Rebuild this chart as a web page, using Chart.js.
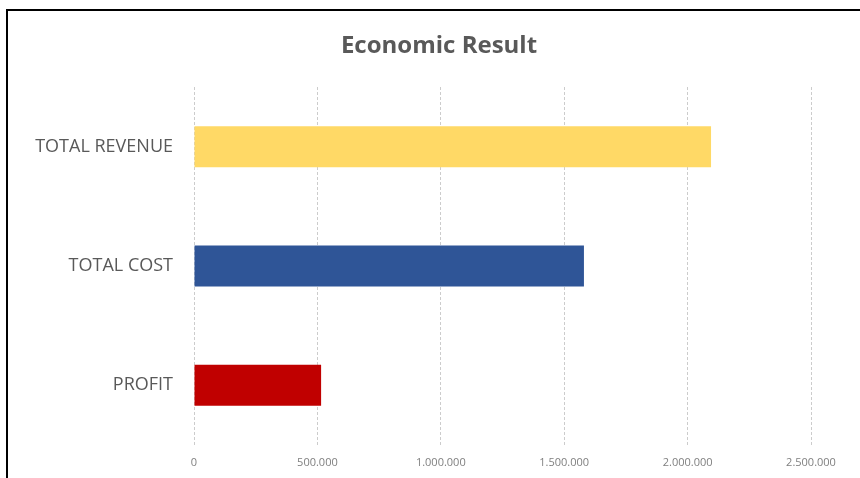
<!DOCTYPE html>
<html>
<head>
<meta charset="utf-8">
<script src="https://cdn.jsdelivr.net/npm/chart.js@4/dist/chart.umd.min.js"></script>
<style>
    html, body { margin: 0; padding: 0; background: #fff; }
    #wrap { position: relative; width: 860px; height: 478px; overflow: hidden; }
    #frame {
        position: absolute; left: 6px; top: 9px; width: 900px; height: 500px;
        border-left: 2px solid #000; border-top: 2px solid #000;
    }
    canvas { position: absolute; left: 0; top: 0; }
</style>
</head>
<body>
<div id="wrap">
    <div id="frame"></div>
    <canvas id="chart" width="860" height="478"></canvas>
</div>
<script>
const categories = ["TOTAL REVENUE", "TOTAL COST", "PROFIT"];
const values = [2095000, 1580000, 515000];
const barColors = ["#FFD966", "#2F5597", "#C00000"];
const xTicks = [0, 500000, 1000000, 1500000, 2000000, 2500000];

function fmt(v) {
    return String(v).replace(/\B(?=(\d{3})+(?!\d))/g, ".");
}

// centre the title over the whole frame, not only the plot side
const centerTitle = {
    id: "centerTitle",
    afterLayout(chart) {
        if (chart.titleBlock) {
            chart.titleBlock.left = 18;
            chart.titleBlock.right = 860;
        }
    }
};

const ctx = document.getElementById("chart");

new Chart(ctx, {
    type: "bar",
    data: {
        labels: categories,
        datasets: [{
            data: values,
            backgroundColor: barColors,
            borderWidth: 0,
            barPercentage: 0.344,
            categoryPercentage: 1
        }]
    },
    options: {
        indexAxis: "y",
        responsive: false,
        animation: false,
        layout: { padding: { left: 0, right: 49, top: 0, bottom: 9 } },
        plugins: {
            legend: { display: false },
            tooltip: { enabled: false },
            title: {
                display: true,
                text: "Economic Result",
                color: "#595959",
                font: { family: "Open Sans", size: 24, weight: "bold", lineHeight: 1 },
                padding: { top: 34, bottom: 29 }
            }
        },
        scales: {
            x: {
                min: 0,
                max: 2500000,
                afterBuildTicks: (scale) => { scale.ticks = xTicks.map(v => ({ value: v })); },
                afterFit: (scale) => { scale.height = 24; },
                grid: { color: "#cccccc", lineWidth: 1, drawTicks: false },
                border: { display: false, dash: [3, 2] },
                ticks: {
                    color: "#7f7f7f",
                    padding: 11,
                    maxRotation: 0,
                    font: { family: "Open Sans", size: 11 },
                    callback: (v) => fmt(v)
                }
            },
            y: {
                grid: { display: false, drawTicks: false },
                border: { display: false },
                afterFit: (scale) => { scale.width = 194; },
                ticks: {
                    color: "#595959",
                    padding: 21,
                    font: { family: "Open Sans", size: 18 }
                }
            }
        }
    },
    plugins: [centerTitle]
});
</script>
</body>
</html>
